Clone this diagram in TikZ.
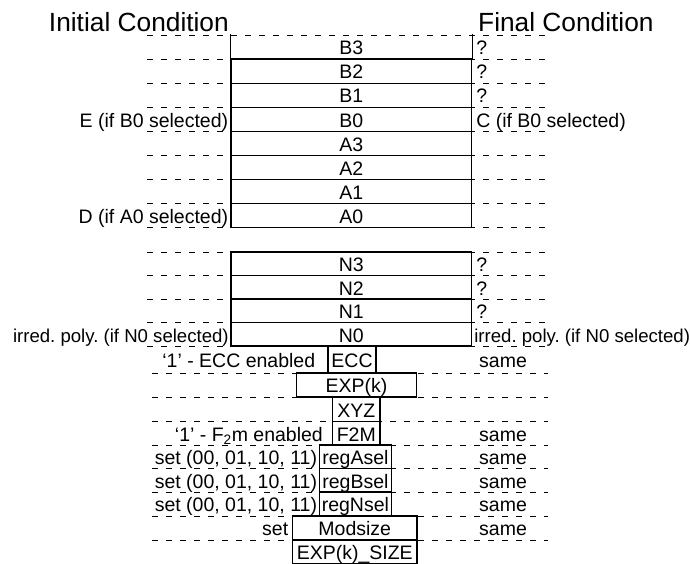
\documentclass[tikz,border=0pt]{standalone}
\usepackage{fontspec}
\setmainfont{Liberation Sans}
\usetikzlibrary{positioning}
\frenchspacing
\tikzset{
  txt/.style={font=\fontsize{19.5}{23}\selectfont, inner sep=0pt, text height=15.6pt, text depth=0pt},
  narrow/.style={txt, font=\fontsize{18.6}{23}\selectfont},
  heading/.style={font=\fontsize{26.3}{30}\selectfont, inner sep=0pt, text height=21pt, text depth=0pt},
  edge/.style={line width=1.2pt},
  reg/.style={txt, draw, edge, minimum height=24pt},
  wide/.style={reg, minimum width=240.5pt, minimum height=24.07pt},
  guide/.style={line width=0.9pt, dash pattern=on 6pt off 8pt}
}
\begin{document}
\begin{tikzpicture}[x=1pt,y=-1pt]
\useasboundingbox[fill=white] (0,0) rectangle (690,563);
% dashed row lines
\foreach \y in {35,59.07,83.14,107.21,131.28,155.35,179.42,203.49,227.56,252,275.5,299,322.5,346}
  \draw[guide] (147,\y) -- (545,\y);
\foreach \y in {373,397,421.5,445,468.5,492,516,540}
  \draw[guide] (152,\y) -- (548,\y);

\node[heading, anchor=east] (initial) at (229,21) {Initial Condition};
\node[heading, anchor=west] (final) at (478,21) {Final Condition};

% B and A registers
\node[wide, draw=none] (B3) at (351.25,47.04) {B3};
\draw[edge] (B3.north west) -- (B3.south west) -- (B3.south east) -- (B3.north east);
\foreach \name/\y in {B2/71.1,B1/95.18,B0/119.25,A3/143.32,A2/167.39,A1/191.46,A0/215.53}
  \node[wide] (\name) at (351.25,\y) {\name};

% N registers
\foreach \name/\y in {N3/263.75,N2/287.25,N1/310.75,N0/334.25}
  \node[wide, minimum height=23.5pt] (\name) at (351.25,\y) {\name};

% control registers
\node[reg, minimum width=48pt, minimum height=27pt] (ECC) at (352,359.5) {ECC};
\node[reg, minimum width=120pt] (EXP) at (356.6,385) {EXP(k)};
\node[reg, minimum width=47.3pt, minimum height=24.5pt] (XYZ) at (356.3,409.25) {XYZ};
\node[reg, minimum width=47.3pt, minimum height=23.5pt] (F2M) at (356.3,433.25) {F2M};
\node[reg, minimum width=72.2pt, minimum height=23.5pt] (regA) at (355.4,456.75) {regAsel};
\node[reg, minimum width=72.2pt, minimum height=23.5pt] (regB) at (355.4,480.25) {regBsel};
\node[reg, minimum width=72.2pt] (regN) at (355.4,504) {regNsel};
\node[reg, minimum width=124.5pt] (Mod) at (354.75,528) {Modsize};
\node[reg, minimum width=124.5pt] (ExpSize) at (354.75,552) {EXP(k)\_SIZE};

% initial condition
\node[txt, left=2pt of B0] (initB0) {E (if B0 selected)};
\node[txt, left=2pt of A0] (initA0) {D (if A0 selected)};
\node[narrow, left=1.5pt of N0] (initN0) {irred. poly. (if N0 selected)};
\node[txt, left=12pt of ECC] (initECC) {‘1’ - ECC enabled};
\node[txt, left=9pt of F2M] (initF2M) {‘1’ - F\textsubscript{2}m enabled};
\node[txt, left=1.5pt of regA] (initA) {set (00, 01, 10, 11)};
\node[txt, left=1.5pt of regB] (initB) {set (00, 01, 10, 11)};
\node[txt, left=1.5pt of regN] (initN) {set (00, 01, 10, 11)};
\node[txt, left=3.5pt of Mod] (initMod) {set};

% final condition
\foreach \name in {B3,B2,B1,N3,N2,N1}
  \node[txt, right=4pt of \name] (fin\name) {?};
\node[txt, right=4pt of B0] (finB0) {C (if B0 selected)};
\node[narrow, right=2pt of N0] (finN0) {irred. poly. (if N0 selected)};
\foreach \name in {ECC,F2M,regA,regB,regN,Mod}
  \node[txt, anchor=west] (fin\name) at (479,0 |- \name) {same};
\end{tikzpicture}
\end{document}
